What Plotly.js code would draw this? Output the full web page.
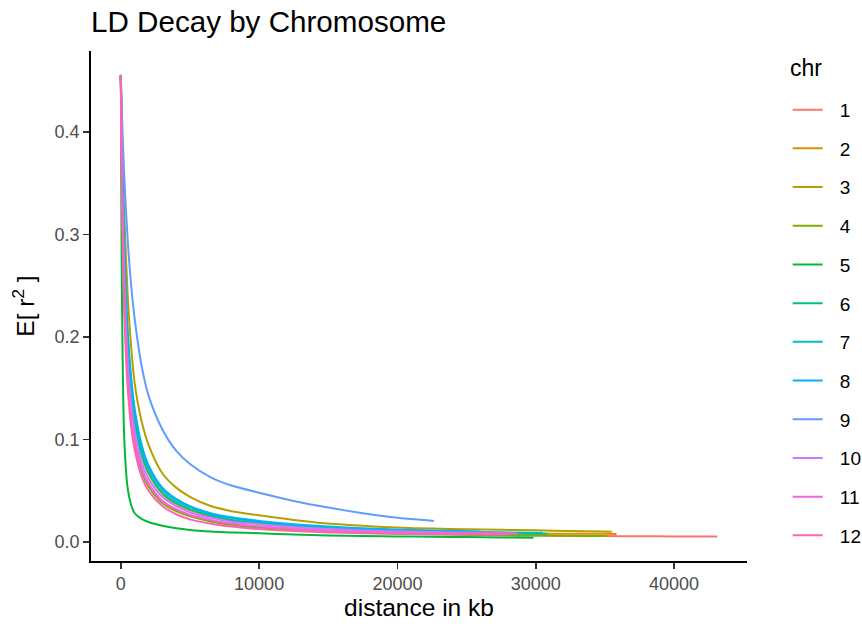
<!DOCTYPE html>
<html>
<head>
<meta charset="utf-8">
<script src="https://cdn.plot.ly/plotly-3.0.1.min.js"></script>
<style>html,body{margin:0;padding:0;background:#fff;} #chart{width:862px;height:624px;}</style>
</head>
<body>
<div id="chart"></div>
<script>
// distance grid (kb)
const distGrid = [0,50,100,250,500,750,1000,1500,2000,3000,4000,5000,6500,8000,10000,12500,15000,17500,20000,22500,25000,27500,30000,32500,35000,37500,40000];
const chrNames = ["1","2","3","4","5","6","7","8","9","10","11","12"];
const chrColors = ["#F8766D","#DE8C00","#B79F00","#7CAE00","#00BA38","#00C08B","#00BFC4","#00B4F0","#619CFF","#C77CFF","#F564E3","#FF64B0"];
// last distance of each chromosome (kb) and E[r^2] there
const endDist = [43120,35840,35500,35120,29840,30850,30500,26000,22640,27500,28680,28000];
const endR = [0.0053,0.0078,0.0100,0.0058,0.0042,0.0080,0.0089,0.0103,0.0205,0.0087,0.0083,0.0072];
// E[r^2] read at the grid distances (only grid points below each end)
const r_chr1 = [0.455,0.39,0.335,0.245,0.165,0.125,0.100,0.072,0.057,0.040,0.031,0.026,0.021,0.0175,0.0148,0.0124,0.0107,0.0094,0.0084,0.0077,0.0071,0.0066,0.0062,0.0059,0.0057,0.0055,0.0054];
const r_chr2 = [0.455,0.40,0.355,0.27,0.19,0.145,0.118,0.085,0.067,0.047,0.037,0.031,0.025,0.021,0.018,0.015,0.0128,0.0114,0.0103,0.0095,0.0089,0.0085,0.0082,0.0080,0.0079];
const r_chr3 = [0.455,0.42,0.39,0.32,0.24,0.19,0.155,0.118,0.095,0.067,0.053,0.044,0.035,0.030,0.026,0.0215,0.018,0.0158,0.014,0.013,0.0123,0.0118,0.0113,0.0107,0.0101];
const r_chr4 = [0.455,0.385,0.33,0.235,0.16,0.12,0.096,0.069,0.054,0.038,0.030,0.025,0.020,0.0166,0.014,0.0118,0.0102,0.009,0.0081,0.0074,0.0069,0.0065,0.0062,0.0060,0.0058];
const r_chr5 = [0.455,0.30,0.215,0.10,0.052,0.036,0.028,0.0225,0.0195,0.0158,0.0133,0.0117,0.0102,0.0093,0.0085,0.0072,0.0063,0.0058,0.0054,0.0050,0.0047,0.0044];
const r_chr6 = [0.455,0.40,0.355,0.27,0.19,0.145,0.118,0.086,0.068,0.048,0.038,0.032,0.0255,0.0215,0.0185,0.0155,0.0133,0.0118,0.0106,0.0097,0.0090,0.0085,0.0081];
const r_chr7 = [0.455,0.405,0.365,0.28,0.20,0.155,0.125,0.092,0.072,0.051,0.040,0.034,0.027,0.023,0.0197,0.0165,0.0143,0.0127,0.0115,0.0106,0.0099,0.0094,0.0090];
const r_chr8 = [0.455,0.41,0.37,0.29,0.205,0.16,0.13,0.095,0.075,0.053,0.042,0.035,0.028,0.024,0.0205,0.0172,0.015,0.0133,0.0121,0.0112,0.0105];
const r_chr9 = [0.455,0.432,0.41,0.356,0.294,0.250,0.218,0.172,0.143,0.110,0.089,0.076,0.063,0.055,0.048,0.040,0.0335,0.028,0.0235,0.0207];
const r_chr10 = [0.455,0.395,0.345,0.255,0.175,0.135,0.108,0.078,0.062,0.044,0.035,0.029,0.0235,0.0198,0.0172,0.0145,0.0126,0.0112,0.0102,0.0095,0.0090];
const r_chr11 = [0.455,0.39,0.335,0.245,0.165,0.125,0.100,0.072,0.057,0.040,0.032,0.0265,0.0215,0.018,0.0152,0.0128,0.0112,0.0101,0.0094,0.0089,0.0086,0.0084];
const r_chr12 = [0.456,0.38,0.32,0.225,0.15,0.112,0.090,0.064,0.050,0.035,0.027,0.022,0.0178,0.015,0.0125,0.0106,0.0093,0.0085,0.0080,0.0076,0.0074,0.0072];
const rValues = [r_chr1,r_chr2,r_chr3,r_chr4,r_chr5,r_chr6,r_chr7,r_chr8,r_chr9,r_chr10,r_chr11,r_chr12];

const xTicks = [0,10000,20000,30000,40000];
const yTicks = [0.0,0.1,0.2,0.3,0.4];
const yTickText = ["0.0","0.1","0.2","0.3","0.4"];

const FONT = "Liberation Sans, Arial, sans-serif";
const NB = "\u00A0\u00A0\u200A";
const traces = chrNames.map((nm,i)=>{
  const rv = rValues[i];
  const xs = distGrid.slice(0, rv.length).concat([endDist[i]]);
  const ys = rv.concat([endR[i]]);
  return {
    x: xs, y: ys, type: "scatter", mode: "lines", name: NB + nm,
    legendgroup: "g"+nm,
    line: {color: chrColors[i], width: 2, shape: "spline", smoothing: 0.8},
    hoverinfo: "skip"
  };
});

const layout = {
  width: 862, height: 624,
  margin: {l: 91, r: 115, t: 51, b: 63, pad: 0, autoexpand: false},
  paper_bgcolor: "#fff", plot_bgcolor: "#fff",
  font: {family: FONT, size: 19, color: "#000"},
  title: {text: "LD Decay by Chromosome", font: {family: FONT, size: 29.6, color: "#000"},
          x: 0, xref: "paper", xanchor: "left", y: 1 - 22/624, yref: "container", yanchor: "middle"},
  xaxis: {
    range: [-2156, 45276], showgrid: false, zeroline: false, automargin: false,
    showline: true, linecolor: "#000", linewidth: 1.8,
    ticks: "outside", ticklen: 6, tickwidth: 1.8, tickcolor: "#333",
    tickvals: xTicks, ticktext: xTicks.map(String),
    tickfont: {family: FONT, size: 18, color: "#4D4D4D"},
    title: {text: "distance in kb", font: {family: FONT, size: 24.5, color: "#000"}, standoff: 3}
  },
  yaxis: {
    range: [-0.0186, 0.479], showgrid: false, zeroline: false, automargin: false,
    showline: true, linecolor: "#000", linewidth: 1.8,
    ticks: "outside", ticklen: 6, tickwidth: 1.8, tickcolor: "#333",
    tickvals: yTicks, ticktext: yTickText,
    tickfont: {family: FONT, size: 18, color: "#4D4D4D"},
    title: {text: "E[ r<sup>2</sup> ]", font: {family: FONT, size: 24.5, color: "#000"}, standoff: 13}
  },
  showlegend: true,
  legend: {
    x: 1.062, xanchor: "left", y: 0.922, yanchor: "top",
    font: {family: FONT, size: 19, color: "#000"},
    tracegroupgap: 11, bgcolor: "rgba(0,0,0,0)"
  },
  annotations: [{
    text: "chr", xref: "paper", yref: "paper", x: (788-91)/656, y: (561-68)/510,
    xanchor: "left", yanchor: "middle", showarrow: false,
    font: {family: FONT, size: 23, color: "#000"}
  }]
};

Plotly.newPlot("chart", traces, layout, {displayModeBar: false, staticPlot: true});
</script>
</body>
</html>
